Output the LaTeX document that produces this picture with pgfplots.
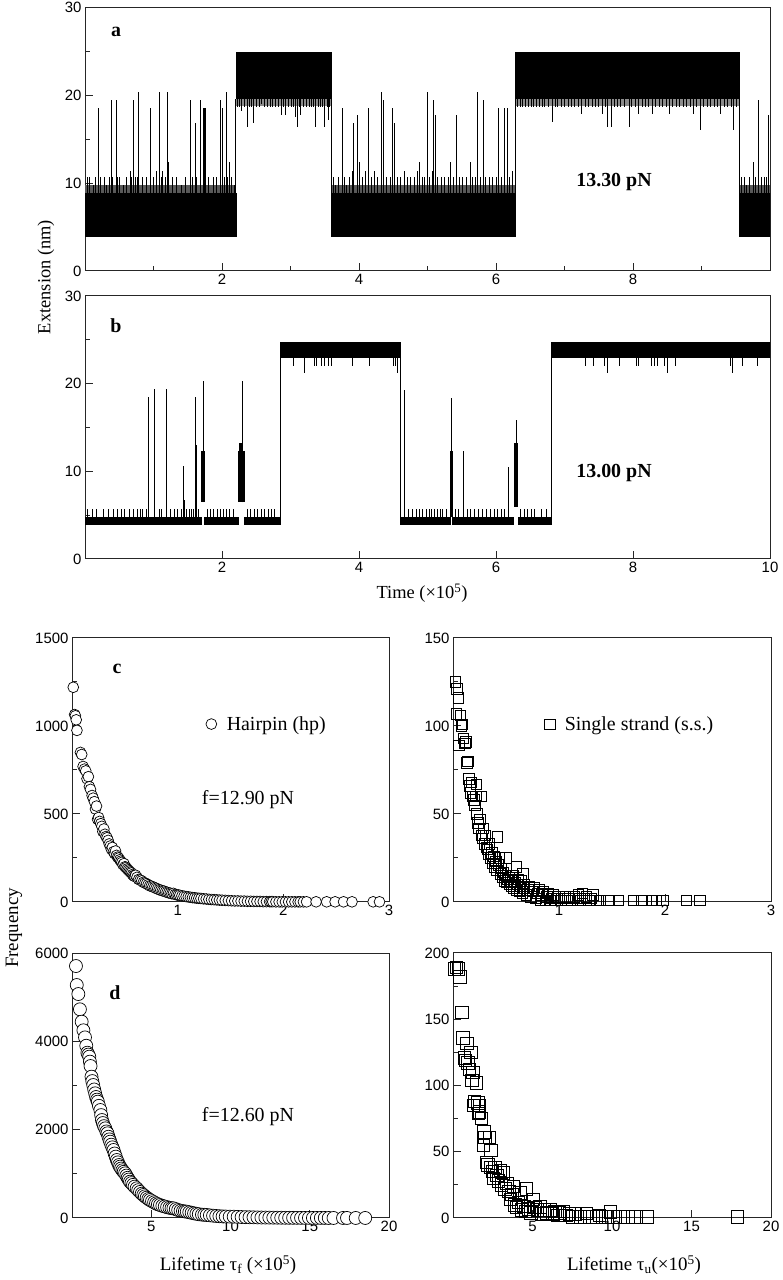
\documentclass[border=0pt]{standalone}
\usepackage{pgfplots}
\pgfplotsset{compat=1.18}
\usepackage{fontspec}
\setmainfont{Liberation Serif}
\setsansfont{Liberation Sans}
\pgfplotsset{
 myax/.style={scale only axis, anchor=south west, tick align=inside, tick pos=left,
   major tick length=8bp, minor tick length=5bp,
   axis line style={line width=1bp, black!85},
   tick style={line width=1bp, black!85},
   tick label style={font=\sffamily\fontsize{15}{15}\selectfont},
   /pgf/number format/assume math mode=true,
   /pgf/number format/1000 sep={},
   scaled ticks=false},
 band/.style={fill=black, draw=black, line width=0.3bp},
 spk/.style={black, line width=0.6bp, no markers},
}
\begin{document}
\begin{tikzpicture}
\useasboundingbox (0,0) rectangle (783bp,1280bp);

% ---------------- panel a ----------------
\begin{axis}[myax, at={(85bp,1009bp)}, width=685bp, height=263.5bp,
  xmin=0, xmax=10, ymin=0, ymax=30,
  xtick={2,4,6,8}, xticklabel={}, minor xtick={1,3,5,7,9},
  ytick={0,10,20,30}, minor ytick={5,15,25}]
\addplot[band] coordinates {(0,4) (2.2,4) (2.2,8.9) (0,8.9)} -- cycle;
\addplot[band] coordinates {(3.59,4) (6.28,4) (6.28,8.9) (3.59,8.9)} -- cycle;
\addplot[band] coordinates {(9.55,4) (10,4) (10,8.9) (9.55,8.9)} -- cycle;
\addplot[fill=black!65, draw=none] coordinates {(0,8.9) (2.2,8.9) (2.2,9.8) (0,9.8)} -- cycle;
\addplot[fill=black!65, draw=none] coordinates {(3.59,8.9) (6.28,8.9) (6.28,9.8) (3.59,9.8)} -- cycle;
\addplot[fill=black!65, draw=none] coordinates {(9.55,8.9) (10,8.9) (10,9.8) (9.55,9.8)} -- cycle;
\addplot[band] coordinates {(2.2,19.6) (3.59,19.6) (3.59,24.9) (2.2,24.9)} -- cycle;
\addplot[band] coordinates {(6.28,19.6) (9.55,19.6) (9.55,24.9) (6.28,24.9)} -- cycle;
\addplot[fill=black!45, draw=none] coordinates {(2.2,18.75) (3.59,18.75) (3.59,19.6) (2.2,19.6)} -- cycle;
\addplot[fill=black!45, draw=none] coordinates {(6.28,18.75) (9.55,18.75) (9.55,19.6) (6.28,19.6)} -- cycle;
\addplot[spk, quiver={u=0, v=\thisrow{t}-8.9}] table[x=x, y expr=8.9] {
x t
0.03 10.7
0.07 10.7
0.12 9.8
0.15 10.7
0.20 18.6
0.22 10.7
0.28 10.7
0.31 9.8
0.36 10.7
0.39 19.5
0.40 10.7
0.45 11.4
0.46 19.5
0.47 10.7
0.50 10.7
0.56 9.8
0.61 10.7
0.66 11.4
0.68 10.7
0.71 19.5
0.73 10.7
0.76 10.7
0.78 20.4
0.84 10.7
0.90 10.7
0.95 18.6
1.00 10.7
1.04 11.4
1.09 20.4
1.11 10.7
1.13 11.4
1.17 10.7
1.20 20.4
1.22 12.4
1.27 10.7
1.34 10.7
1.41 9.8
1.46 10.7
1.53 19.5
1.56 10.7
1.61 16.9
1.63 10.7
1.68 19.5
1.73 18.6
1.74 18.6
1.75 18.6
1.80 10.7
1.87 10.7
1.92 10.7
1.97 19.5
2.01 18.6
2.03 10.7
2.06 20.4
2.08 10.7
2.11 12.4
2.14 10.7
2.18 9.8
2.20 19.6
3.59 19.6
3.62 10.7
3.66 9.8
3.70 10.7
3.75 18.6
3.78 10.7
3.82 9.8
3.86 10.7
3.90 11.4
3.92 16.9
3.97 17.8
4.01 12.4
4.05 10.7
4.09 11.4
4.14 18.6
4.18 10.7
4.22 11.4
4.27 10.7
4.32 20.4
4.36 19.5
4.40 10.7
4.45 10.7
4.49 18.6
4.52 16.9
4.56 10.7
4.61 10.7
4.66 11.4
4.70 10.7
4.75 10.7
4.80 10.7
4.85 11.4
4.88 12.4
4.92 10.7
4.96 10.7
4.99 20.4
5.03 10.7
5.07 11.4
5.09 19.5
5.11 17.8
5.15 10.7
5.20 10.7
5.25 10.7
5.30 10.7
5.34 12.4
5.38 10.7
5.42 17.8
5.46 10.7
5.51 10.7
5.56 10.7
5.62 12.4
5.66 10.7
5.70 10.7
5.73 20.4
5.77 10.7
5.81 19.5
5.85 10.7
5.90 10.7
5.95 10.7
6.00 10.7
6.04 18.6
6.08 10.7
6.12 18.6
6.16 18.6
6.20 10.7
6.24 11.4
6.28 19.6
9.55 19.6
9.58 10.7
9.62 10.7
9.66 9.8
9.70 10.7
9.75 12.4
9.79 10.7
9.83 19.5
9.87 10.7
9.91 10.7
9.95 10.7
9.97 17.8
};
\addplot[spk, quiver={u=0, v=\thisrow{t}-19.6}] table[x=x, y expr=19.6] {
x t
2.22 18.7
2.25 18.7
2.28 18.2
2.32 18.7
2.37 16.4
2.40 18.7
2.43 18.7
2.46 16.9
2.50 18.7
2.55 18.7
2.58 19.0
2.62 18.7
2.66 18.7
2.70 18.7
2.74 18.7
2.78 18.7
2.82 18.7
2.87 17.8
2.90 18.7
2.93 17.8
2.97 18.7
3.01 18.7
3.04 18.7
3.07 17.5
3.10 16.4
3.13 18.7
3.15 17.8
3.19 18.7
3.23 18.7
3.27 18.7
3.30 18.7
3.33 18.7
3.36 16.4
3.40 18.7
3.44 18.7
3.47 18.7
3.50 16.4
3.53 18.7
3.55 17.2
3.57 18.7
6.31 18.7
6.35 18.7
6.39 18.7
6.43 18.7
6.47 18.7
6.51 18.7
6.55 18.7
6.59 18.7
6.63 18.7
6.67 18.7
6.71 18.7
6.76 18.7
6.82 17.0
6.86 18.7
6.90 18.7
6.95 18.7
7.00 18.7
7.05 18.7
7.10 18.7
7.15 18.7
7.20 18.7
7.25 17.9
7.30 18.7
7.35 18.7
7.40 18.7
7.45 18.7
7.50 18.7
7.55 17.9
7.60 18.7
7.63 16.4
7.68 16.4
7.72 18.7
7.77 18.7
7.82 18.7
7.87 18.7
7.94 16.4
7.98 18.7
8.03 18.7
8.08 17.9
8.13 18.7
8.18 18.7
8.23 18.7
8.28 17.9
8.33 18.7
8.38 18.7
8.43 18.7
8.48 18.7
8.53 17.9
8.58 18.7
8.63 18.7
8.68 18.7
8.73 18.7
8.78 18.7
8.83 18.7
8.88 17.9
8.93 18.7
8.98 16.1
9.03 18.7
9.08 18.7
9.13 18.7
9.18 18.7
9.23 18.7
9.28 17.9
9.33 18.7
9.38 18.7
9.43 18.7
9.47 16.1
9.51 18.7
};
\end{axis}

% ---------------- panel b ----------------
\begin{axis}[myax, at={(85bp,721bp)}, width=685bp, height=263bp,
  xmin=0, xmax=10, ymin=0, ymax=30,
  xtick={2,4,6,8,10},
  ytick={0,10,20,30}, minor ytick={5,15,25}]
\addplot[band] coordinates {(0,4) (1.69,4) (1.69,4.8) (0,4.8)} -- cycle;
\addplot[band] coordinates {(1.745,4) (2.23,4) (2.23,4.8) (1.745,4.8)} -- cycle;
\addplot[band] coordinates {(2.33,4) (2.85,4) (2.85,4.8) (2.33,4.8)} -- cycle;
\addplot[band] coordinates {(4.6,4) (5.33,4) (5.33,4.8) (4.6,4.8)} -- cycle;
\addplot[band] coordinates {(5.36,4) (6.25,4) (6.25,4.8) (5.36,4.8)} -- cycle;
\addplot[band] coordinates {(6.32,4) (6.8,4) (6.8,4.8) (6.32,4.8)} -- cycle;
\addplot[band] coordinates {(1.70,6.6) (1.735,6.6) (1.735,12.3) (1.70,12.3)} -- cycle;
\addplot[band] coordinates {(2.24,6.6) (2.32,6.6) (2.32,12.3) (2.24,12.3)} -- cycle;
\addplot[band] coordinates {(2.255,12.3) (2.295,12.3) (2.295,13.2) (2.255,13.2)} -- cycle;
\addplot[band] coordinates {(6.265,6.0) (6.305,6.0) (6.305,13.2) (6.265,13.2)} -- cycle;
\addplot[band] coordinates {(2.85,23.0) (4.6,23.0) (4.6,24.7) (2.85,24.7)} -- cycle;
\addplot[band] coordinates {(6.8,23.0) (10,23.0) (10,24.7) (6.8,24.7)} -- cycle;
\addplot[spk, quiver={u=0, v=\thisrow{t}-4.8}] table[x=x, y expr=4.8] {
x t
0.04 5.7
0.10 5.7
0.17 5.7
0.27 5.7
0.34 5.7
0.41 5.7
0.47 5.7
0.53 5.7
0.57 5.7
0.64 5.7
0.70 5.7
0.77 5.7
0.80 5.7
0.84 5.7
0.89 5.7
0.93 18.5
1.005 12.3
1.01 19.4
1.015 12.3
1.08 5.7
1.12 5.7
1.18 19.4
1.19 12.3
1.25 5.7
1.30 5.7
1.35 5.7
1.40 5.7
1.43 6.7
1.44 10.6
1.45 6.7
1.48 5.7
1.52 5.7
1.55 5.7
1.58 5.7
1.61 18.5
1.62 13.0
1.65 5.7
1.78 5.7
1.83 5.7
1.88 5.7
1.93 5.7
1.98 5.7
2.02 5.7
2.06 5.7
2.11 5.7
2.16 5.7
2.37 5.7
2.42 5.7
2.47 5.7
2.52 5.7
2.57 5.7
2.62 5.7
2.67 5.7
2.72 5.7
2.77 5.7
2.85 23.0
4.60 23.0
4.66 19.3
4.665 12.3
4.72 5.7
4.78 5.7
4.83 5.7
4.88 5.7
4.93 5.7
4.98 5.7
5.02 5.7
5.06 5.7
5.10 5.7
5.14 5.7
5.18 5.7
5.22 5.7
5.27 5.7
5.335 12.3
5.345 18.4
5.355 12.3
5.40 5.7
5.45 5.7
5.52 12.3
5.58 5.7
5.63 5.7
5.68 5.7
5.74 5.7
5.80 5.7
5.86 5.7
5.92 5.7
5.97 5.7
6.02 5.7
6.07 5.7
6.12 5.7
6.18 10.5
6.36 5.7
6.41 5.7
6.46 5.7
6.51 5.7
6.56 5.7
6.66 5.7
6.73 5.7
6.80 23.0
};
\addplot[spk, quiver={u=0, v=\thisrow{t}-6.5}] table[x=x, y expr=6.5] {
x t
1.72 20.3
2.29 20.3
2.30 20.3
6.29 15.8
};
\addplot[spk, quiver={u=0, v=\thisrow{t}-23.0}] table[x=x, y expr=23.0] {
x t
3.04 22.0
3.20 21.2
3.35 22.0
3.38 22.0
3.45 22.0
3.50 22.0
3.55 22.0
3.60 22.0
3.90 22.0
4.15 22.0
4.50 22.0
4.53 22.0
4.56 21.2
7.30 22.0
7.42 22.0
7.58 22.0
7.62 21.2
7.80 22.0
8.05 22.0
8.08 22.0
8.27 22.0
8.31 22.0
8.36 22.0
8.45 22.0
8.50 21.2
8.62 22.0
9.42 22.0
9.45 21.2
9.60 22.0
9.82 22.0
};
\end{axis}

% ---------------- panel c (left) ----------------
\begin{axis}[myax, at={(72bp,378bp)}, width=317bp, height=264bp, clip=false,
  xmin=0, xmax=3, ymin=0, ymax=1500,
  xtick={1,2,3}, ytick={0,500,1000,1500}, minor ytick={250,750,1250},
  legend style={at={(0.422,0.674)}, anchor=west, draw=none, fill=none,
    font=\fontsize{20}{20}\selectfont, inner sep=0pt, column sep=8bp}]
\addplot[only marks, mark=*, mark size=5.4bp, mark options={fill=white, draw=black, line width=0.7bp}] table {
x y
0.012 1220
0.025 1065
0.032 1058
0.040 1035
0.047 975
0.080 850
0.092 838
0.105 770
0.118 755
0.130 745
0.142 700
0.155 712
0.165 655
0.175 640
0.190 605
0.200 590
0.212 570
0.222 528
0.232 545
0.242 470
0.252 480
0.262 458
0.272 445
0.282 430
0.292 400
0.302 415
0.312 385
0.322 372
0.332 365
0.342 350
0.352 330
0.362 318
0.372 300
0.382 310
0.392 285
0.402 275
0.412 290
0.422 265
0.432 255
0.442 250
0.452 240
0.462 232
0.472 225
0.482 212
0.492 218
0.502 200
0.512 196
0.522 188
0.532 182
0.542 176
0.552 170
0.562 165
0.572 156
0.582 150
0.592 145
0.602 152
0.615 140
0.630 128
0.645 125
0.660 120
0.675 112
0.690 108
0.705 104
0.720 98
0.735 92
0.750 90
0.765 86
0.780 82
0.795 78
0.810 74
0.825 70
0.840 67
0.855 64
0.870 62
0.885 58
0.900 55
0.915 52
0.930 50
0.945 47
0.960 49
0.975 43
0.990 41
1.005 40
1.020 38
1.040 35
1.060 33
1.080 31
1.100 29
1.120 27
1.140 25
1.160 24
1.180 22
1.200 21
1.220 20
1.245 18
1.270 17
1.295 15
1.320 14
1.345 13
1.370 12
1.395 11
1.420 10
1.450 9
1.480 8
1.510 7
1.540 6
1.570 6
1.600 5
1.630 5
1.660 4
1.690 4
1.720 3
1.750 3
1.780 3
1.810 2
1.840 2
1.870 2
1.885 2
1.900 2
1.930 1
1.960 1
1.990 1
2.020 1
2.050 1
2.080 1
2.110 1
2.140 1
2.160 1
2.190 1
2.220 1
2.310 1
2.410 1
2.490 1
2.570 1
2.650 1
2.850 1
2.910 1
};
\addlegendentry{Hairpin (hp)}
\end{axis}

% ---------------- panel c (right) ----------------
\begin{axis}[myax, at={(453bp,378bp)}, width=318bp, height=264bp, clip=false,
  xmin=0, xmax=3, ymin=0, ymax=150,
  xtick={1,2,3}, ytick={0,50,100,150}, minor ytick={25,75,125},
  legend style={at={(0.287,0.674)}, anchor=west, draw=none, fill=none,
    font=\fontsize{20}{20}\selectfont, inner sep=0pt, column sep=8bp}]
\addplot[only marks, mark=square, mark size=5.2bp, mark options={draw=black, line width=0.7bp}] table {
x y
0.020 125
0.030 107
0.035 121
0.050 116
0.055 89
0.070 106
0.080 100
0.090 101
0.100 93
0.110 90
0.120 91
0.130 79
0.140 80
0.150 70
0.160 66
0.165 62
0.175 68
0.185 60
0.195 58
0.205 55
0.215 60
0.220 67
0.225 50
0.235 45
0.245 42
0.255 47
0.265 38
0.270 60
0.275 36
0.285 42
0.295 33
0.305 38
0.315 31
0.325 30
0.335 27
0.345 33
0.355 25
0.365 28
0.375 22
0.385 26
0.395 20
0.405 23
0.415 18
0.420 37
0.425 21
0.435 25
0.445 16
0.455 19
0.465 14
0.475 17
0.485 12
0.495 15
0.500 25
0.505 11
0.515 13
0.525 14
0.535 10
0.545 12
0.555 9
0.565 15
0.575 8
0.585 11
0.595 7
0.600 20
0.605 10
0.615 13
0.625 6
0.635 9
0.645 12
0.655 5
0.660 16
0.665 8
0.675 10
0.690 4
0.705 7
0.720 9
0.735 3
0.750 6
0.765 8
0.780 2
0.795 5
0.810 7
0.825 1
0.840 4
0.855 6
0.870 1
0.885 3
0.900 5
0.915 1
0.930 2
0.945 4
0.960 1
0.980 2
1.000 3
1.020 1
1.040 2
1.060 3
1.080 1
1.100 2
1.120 1
1.140 3
1.160 2
1.180 4
1.200 1
1.220 5
1.240 2
1.260 3
1.280 1
1.300 2
1.320 4
1.350 1
1.390 1
1.470 1
1.560 1
1.700 1
1.780 1
1.870 1
1.920 1
1.980 1
2.200 1
2.330 1
};
\addlegendentry{Single strand (s.s.)}
\end{axis}

% ---------------- panel d (left) ----------------
\begin{axis}[myax, at={(72bp,62bp)}, width=317bp, height=265bp, clip=false,
  xmin=0, xmax=20, ymin=0, ymax=6000,
  xtick={5,10,15,20}, ytick={0,2000,4000,6000}, minor ytick={1000,3000,5000}]
\addplot[only marks, mark=*, mark size=6.5bp, mark options={fill=white, draw=black, line width=0.7bp}] table {
x y
0.25 5705
0.30 5275
0.40 5071
0.50 4725
0.61 4445
0.72 4250
0.82 4090
0.90 3900
0.97 3743
1.03 3700
1.09 3653
1.13 3540
1.17 3441
1.23 3200
1.28 3100
1.34 3011
1.40 2910
1.46 2823
1.52 2740
1.58 2680
1.63 2634
1.70 2540
1.79 2445
1.84 2330
1.89 2218
1.95 2150
2.02 2080
2.10 2030
2.17 1960
2.24 1917
2.30 1840
2.36 1780
2.41 1728
2.48 1660
2.55 1600
2.62 1540
2.69 1460
2.76 1390
2.83 1313
2.90 1260
2.97 1200
3.03 1162
3.10 1120
3.18 1080
3.26 1045
3.35 1011
3.43 960
3.51 910
3.58 870
3.66 822
3.75 790
3.85 750
3.95 710
4.08 672
4.18 630
4.29 590
4.40 550
4.50 521
4.60 490
4.71 460
4.82 430
4.92 408
5.05 380
5.18 355
5.30 330
5.42 310
5.55 294
5.70 275
5.85 260
6.00 245
6.15 232
6.28 222
6.40 219
6.55 200
6.70 180
6.85 165
7.00 155
7.12 148
7.24 143
7.40 130
7.55 118
7.70 105
7.85 95
8.00 85
8.20 76
8.35 72
8.50 68
8.70 60
8.90 52
9.10 46
9.30 40
9.50 36
9.70 33
9.95 31
10.20 30
10.45 26
10.70 22
10.95 19
11.20 17
11.45 15
11.70 13
11.95 11
12.20 10
12.45 9
12.70 8
12.95 7
13.20 6
13.45 5
13.70 5
13.95 4
14.20 4
14.45 3
14.70 3
14.95 3
15.20 2
15.45 2
15.70 2
15.95 2
16.20 1
16.50 1
17.10 1
17.35 1
17.90 1
18.50 1
};
\end{axis}

% ---------------- panel d (right) ----------------
\begin{axis}[myax, at={(453bp,62bp)}, width=318bp, height=265bp, clip=false,
  xmin=0, xmax=20, ymin=0, ymax=200,
  xtick={5,10,15,20}, ytick={0,50,100,150,200}, minor ytick={25,75,125,175}]
\addplot[only marks, mark=square, mark size=6.2bp, mark options={draw=black, line width=0.7bp}] table {
x y
0.10 188
0.20 189
0.33 188
0.44 182
0.55 155
0.61 136
0.70 121
0.78 119
0.86 132
0.94 117
1.02 112
1.11 125
1.18 104
1.24 110
1.28 85
1.36 88
1.45 102
1.55 87
1.60 79
1.65 85
1.67 80
1.80 75
1.90 55
1.95 65
2.00 61
2.10 42
2.20 40
2.28 61
2.35 38
2.39 51
2.48 35
2.55 30
2.64 38
2.75 32
2.85 28
2.96 36
3.05 25
3.17 34
3.25 22
3.38 26
3.50 20
3.60 14
3.70 18
3.79 24
3.90 10
4.00 8
4.10 12
4.21 19
4.30 6
4.45 9
4.55 5
4.63 22
4.75 7
4.90 4
5.05 14
5.15 8
5.30 6
5.47 8.5
5.60 3
5.75 6
5.90 4
6.10 6
6.25 3
6.40 5
6.55 2
6.70 4
6.94 5
7.10 2
7.30 3
7.50 1
7.70 3
8.00 1
8.40 3.5
8.60 1
9.00 1
9.20 2
9.60 1
9.88 4.5
10.10 1
10.50 1
11.00 1
11.50 1
12.20 1
17.90 1
};
\end{axis}

% ---------------- texts ----------------
\node[font=\bfseries\fontsize{20}{20}\selectfont] at (116bp,1248bp) {a};
\node[font=\bfseries\fontsize{20}{20}\selectfont] at (614bp,1098bp) {13.30 pN};
\node[font=\bfseries\fontsize{20}{20}\selectfont] at (116bp,954bp) {b};
\node[font=\bfseries\fontsize{20}{20}\selectfont] at (614bp,807bp) {13.00 pN};
\node[font=\bfseries\fontsize{20}{20}\selectfont] at (117bp,611bp) {c};
\node[font=\bfseries\fontsize{20}{20}\selectfont] at (115bp,287bp) {d};
\node[font=\fontsize{20}{20}\selectfont] at (248bp,480bp) {f=12.90 pN};
\node[font=\fontsize{20}{20}\selectfont] at (248bp,163bp) {f=12.60 pN};
\node[font=\fontsize{18.5}{18.5}\selectfont, rotate=90] at (46bp,1003bp) {Extension (nm)};
\node[font=\fontsize{18.5}{18.5}\selectfont] at (422bp,687bp) {Time (×10\textsuperscript{5})};
\node[font=\fontsize{19}{19}\selectfont, rotate=90] at (14bp,352bp) {Frequency};
\node[font=\fontsize{19}{19}\selectfont] at (228bp,15bp) {Lifetime τ\textsubscript{f} (×10\textsuperscript{5})};
\node[font=\fontsize{19}{19}\selectfont] at (634bp,15bp) {Lifetime τ\textsubscript{u}(×10\textsuperscript{5})};
\end{tikzpicture}
\end{document}
